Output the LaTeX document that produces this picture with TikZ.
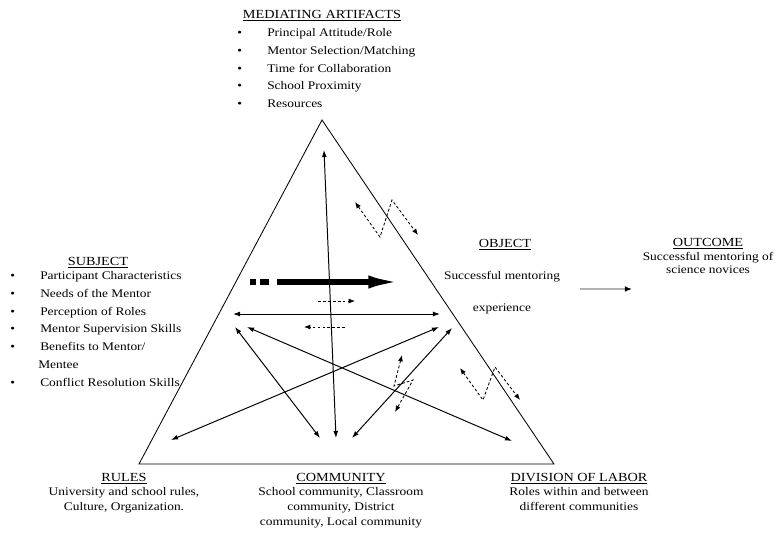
\documentclass[tikz,border=0pt]{standalone}
\usepackage{fontspec}
\setmainfont{Liberation Serif}[FakeStretch=1.15]
\usetikzlibrary{arrows.meta,positioning}

\newcommand{\itm}{\makebox[0.75cm][l]{\textbullet}}

\begin{document}
\begin{tikzpicture}[x=0.025cm, y=-0.025cm,
  txt/.style={font=\fontsize{8.3}{10.7}\selectfont, inner sep=0pt, align=center},
  hd/.style={font=\fontsize{8.8}{10.7}\selectfont, inner sep=0pt},
  lst/.style={font=\fontsize{8.3}{12.7}\selectfont, inner sep=0pt, align=left,
              anchor=north west},
  side/.style={line width=0.6pt},
  link/.style={line width=0.7pt,
               {Latex[length=5pt,width=3.5pt]}-{Latex[length=5pt,width=3.5pt]}},
  zig/.style={line width=0.6pt, dash pattern=on 2pt off 1.5pt,
              {Latex[length=4.5pt,width=3.5pt]}-{Latex[length=4.5pt,width=3.5pt]}},
  hint/.style={line width=0.5pt, dash pattern=on 2pt off 1.5pt,
               -{Latex[length=4.5pt,width=3.5pt]}},
]
  \useasboundingbox (0,0) rectangle (776,533);

  % Vertices of the triangle
  \coordinate (top) at (322,120);
  \coordinate (bl)  at (139,464);
  \coordinate (br)  at (554,464);
  \draw[side] (top) -- (bl) -- (br) -- cycle;

  % Mediating artifacts
  \node[hd] (artif) at (322,16) {\underline{MEDIATING ARTIFACTS}};
  \node[lst] (artifl) at (237,28)
    {\itm Principal Attitude/Role\\
     \itm Mentor Selection/Matching\\
     \itm Time for Collaboration\\
     \itm School Proximity\\
     \itm Resources};

  % Subject
  \node[hd] (subj) at (98,263) {\underline{SUBJECT}};
  \node[lst] (subjl) at (10,271)
    {\itm Participant Characteristics\\
     \itm Needs of the Mentor\\
     \itm Perception of Roles\\
     \itm Mentor Supervision Skills\\
     \itm Benefits to Mentor/\\
     \hspace{0.7cm}Mentee\\
     \itm Conflict Resolution Skills};

  % Object and outcome
  \node[hd] (obj) at (505,245) {\underline{OBJECT}};
  \node[txt] (objt) at (502,277) {Successful mentoring};
  \node[txt] (objx) at (502,309) {experience};
  \node[hd] (outc) at (708,244) {\underline{OUTCOME}};
  \node[txt, font=\fontsize{8.3}{9.4}\selectfont, below=1.5pt of outc] (outct)
    {Successful mentoring of\\ science novices};
  \coordinate (oa) at (580,289);
  \coordinate (ob) at (632,289);
  \draw[line width=0.9pt, black!30, -{Latex[length=5pt,width=4pt,color=black]}]
    (oa) -- (ob);

  % Rules, community, division of labor
  \node[hd] (rules) at (124,479) {\underline{RULES}};
  \node[txt, below=1.5pt of rules] (rulest)
    {University and school rules,\\ Culture, Organization.};
  \node[hd] (comm) at (341,479) {\underline{COMMUNITY}};
  \node[txt, below=1.5pt of comm] (commt)
    {School community, Classroom\\ community, District\\ community, Local community};
  \node[hd] (divl) at (579,479) {\underline{DIVISION OF LABOR}};
  \node[txt, below=1.5pt of divl] (divlt)
    {Roles within and between\\ different communities};

  % End points of the inner arrows
  \coordinate (ma) at (324,150);
  \coordinate (mb) at (336,438);
  \coordinate (ha) at (233,314);
  \coordinate (hb) at (440,314);
  \coordinate (sa) at (235,327);
  \coordinate (sb) at (320,438);
  \coordinate (ta) at (247,327);
  \coordinate (tb) at (512,441);
  \coordinate (ua) at (171,440);
  \coordinate (ub) at (439,327);
  \coordinate (va) at (352,438);
  \coordinate (vb) at (452,328);

  % Two-way relations
  \draw[link] (ma) -- (mb);
  \draw[link] (ha) -- (hb);
  \draw[link] (sa) -- (sb);
  \draw[link] (ta) -- (tb);
  \draw[link] (ua) -- (ub);
  \draw[link] (va) -- (vb);

  % Subject towards object
  \coordinate (pa) at (250,282);
  \coordinate (pb) at (405,282);
  \draw[line width=4pt] (pa) -- ++(6,0) ++(4,0) -- ++(9,0);
  \draw[line width=4pt, -{Latex[length=26pt,width=9pt]}] (277,282) -- (pb);

  % Small feedback arrows
  \draw[hint] (318,301) -- (355,301);
  \draw[hint] (345,327) -- (304,327);

  % Contradictions
  \draw[zig] (355,202) -- (380,237) -- (392,200) -- (418,235);
  \draw[zig] (402,355) -- (394,386) -- (413,380) -- (395,412);
  \draw[zig] (460,368) -- (483,400) -- (495,367) -- (520,400);
\end{tikzpicture}
\end{document}
